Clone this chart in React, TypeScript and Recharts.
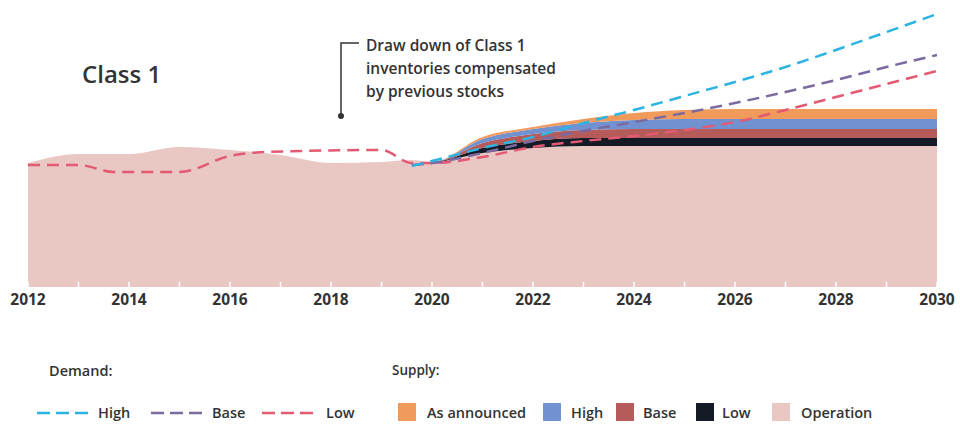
import React from "react";
import { ComposedChart, Area, Line, XAxis, YAxis } from "recharts";

// supply (stacked areas)
const SUPPLY_YEARS = [
  2012, 2013, 2013.5, 2014, 2015, 2015.5, 2016, 2016.5, 2017, 2018, 2019, 2019.6,
  2020, 2021, 2022, 2023, 2024, 2025, 2026, 2027, 2028, 2029, 2030,
];
const OPERATION = [
  124, 133, 133, 133, 140, 139, 137, 135, 132, 124, 125, 127,
  125, 134, 139, 141, 141, 141, 141, 141, 141, 141, 141,
];
const SUPPLY_LOW = [0, 0, 0, 0, 0, 0, 0, 0, 0, 0, 0, 0, 0, 5, 7, 8, 8, 8, 8, 8, 8, 8, 8];
const SUPPLY_BASE = [0, 0, 0, 0, 0, 0, 0, 0, 0, 0, 0, 0, 0, 5, 7, 8, 9, 9, 9, 9, 9, 9, 9];
const SUPPLY_HIGH = [0, 0, 0, 0, 0, 0, 0, 0, 0, 0, 0, 0, 0, 4, 5, 7, 9, 10, 10, 10, 10, 10, 10];
const SUPPLY_ANNOUNCED = [0, 0, 0, 0, 0, 0, 0, 0, 0, 0, 0, 0, 0, 2, 2, 4, 7, 9, 10, 10, 10, 10, 10];

// demand (dashed lines)
const DEMAND_LOW_YEARS = [
  2012, 2013, 2013.7, 2015, 2016, 2016.7, 2019, 2019.6, 2020, 2021, 2022, 2023, 2024,
  2025, 2026, 2027, 2028, 2029, 2030,
];
const DEMAND_LOW = [122, 122, 115, 115, 131, 135, 137, 124, 124, 130, 140, 146, 151, 157, 165, 177, 190, 203, 216];
const DEMAND_YEARS = [2019.6, 2020, 2021, 2022, 2023, 2024, 2025, 2026, 2027, 2028, 2029, 2030];
const DEMAND_HIGH = [121, 126, 139, 150, 164, 177, 191, 205, 220, 237, 255, 273];
const DEMAND_BASE = [122, 124, 134, 146, 156, 165, 174, 184, 195, 207, 220, 232];

const TICK_YEARS = [
  2012, 2013, 2014, 2015, 2016, 2017, 2018, 2019, 2020, 2021, 2022, 2023, 2024, 2025,
  2026, 2027, 2028, 2029, 2030,
];

const COLORS = {
  operation: "#e9c7c3",
  low: "#141a26",
  base: "#b55c5a",
  high: "#7191d0",
  announced: "#f09a5c",
  dHigh: "#2db4e2",
  dBase: "#7a6aa0",
  dLow: "#e35a72",
};

const FONT = "'Open Sans', 'DejaVu Sans', sans-serif";
const TEXT = "#333";

const supplyData = SUPPLY_YEARS.map((year, i) => ({
  year,
  operation: OPERATION[i],
  low: SUPPLY_LOW[i],
  base: SUPPLY_BASE[i],
  high: SUPPLY_HIGH[i],
  announced: SUPPLY_ANNOUNCED[i],
}));
const lowData = DEMAND_LOW_YEARS.map((year, i) => ({ year, value: DEMAND_LOW[i] }));
const highData = DEMAND_YEARS.map((year, i) => ({ year, value: DEMAND_HIGH[i] }));
const baseData = DEMAND_YEARS.map((year, i) => ({ year, value: DEMAND_BASE[i] }));

const YearTick = ({ x, y, payload }: any) => (
  <g>
    <line x1={x} x2={x} y1={y - 5} y2={y} stroke="#fff" strokeWidth={1.5} />
    {payload.value % 2 === 0 && (
      <text
        x={x}
        y={y + 14}
        textAnchor="middle"
        dominantBaseline="middle"
        fontFamily={FONT}
        fontSize={15.5}
        fontWeight={700}
        fill={TEXT}
      >
        {payload.value}
      </text>
    )}
  </g>
);

const DashSample = ({ color }: { color: string }) => (
  <svg width={52} height={6} style={{ display: "block" }}>
    <line x1={0} x2={52} y1={3} y2={3} stroke={color} strokeWidth={2.5} strokeDasharray="13 6" />
  </svg>
);

const label = (left: number, top: number, text: string, size = 14.5) => (
  <div
    style={{
      position: "absolute",
      left,
      top,
      fontSize: size,
      fontWeight: 600,
      color: TEXT,
      lineHeight: 1,
      whiteSpace: "nowrap",
    }}
  >
    {text}
  </div>
);

const swatch = (left: number, color: string) => (
  <div
    style={{ position: "absolute", left, top: 403, width: 18, height: 18, background: color }}
  />
);

export default function App() {
  return (
    <div
      style={{
        position: "absolute",
        left: 0,
        top: 0,
        width: 960,
        height: 426,
        background: "#fff",
        fontFamily: FONT,
      }}
    >
      <ComposedChart
        width={960}
        height={320}
        data={supplyData}
        margin={{ top: 7, right: 23, left: 28, bottom: 0 }}
      >
        <XAxis
          dataKey="year"
          type="number"
          domain={[2012, 2030]}
          ticks={TICK_YEARS}
          interval={0}
          height={33}
          axisLine={false}
          tickLine={false}
          tickSize={0}
          tickMargin={0}
          tick={<YearTick />}
        />
        <YAxis hide domain={[0, 280]} />
        <Area dataKey="operation" stackId="s" type="monotone" fill={COLORS.operation} fillOpacity={1} stroke="none" isAnimationActive={false} />
        <Area dataKey="low" stackId="s" type="monotone" fill={COLORS.low} fillOpacity={1} stroke="none" isAnimationActive={false} />
        <Area dataKey="base" stackId="s" type="monotone" fill={COLORS.base} fillOpacity={1} stroke="none" isAnimationActive={false} />
        <Area dataKey="high" stackId="s" type="monotone" fill={COLORS.high} fillOpacity={1} stroke="none" isAnimationActive={false} />
        <Area dataKey="announced" stackId="s" type="monotone" fill={COLORS.announced} fillOpacity={1} stroke="none" isAnimationActive={false} />
        <Line data={lowData} dataKey="value" type="monotone" stroke={COLORS.dLow} strokeWidth={2.5} strokeDasharray="12 7" dot={false} isAnimationActive={false} />
        <Line data={baseData} dataKey="value" type="monotone" stroke={COLORS.dBase} strokeWidth={2.5} strokeDasharray="12 7" dot={false} isAnimationActive={false} />
        <Line data={highData} dataKey="value" type="monotone" stroke={COLORS.dHigh} strokeWidth={2.5} strokeDasharray="12 7" dot={false} isAnimationActive={false} />
      </ComposedChart>

      {/* title */}
      <div
        style={{
          position: "absolute",
          left: 82,
          top: 62,
          fontSize: 24,
          fontWeight: 600,
          color: TEXT,
          lineHeight: 1,
        }}
      >
        Class 1
      </div>

      {/* annotation */}
      <svg width={30} height={130} style={{ position: "absolute", left: 330, top: 35 }}>
        <polyline points="29,8 11,8 11,81" fill="none" stroke={TEXT} strokeWidth={1.5} />
        <circle cx={11} cy={81} r={3} fill={TEXT} />
      </svg>
      <div
        style={{
          position: "absolute",
          left: 366,
          top: 34,
          fontSize: 15.5,
          fontWeight: 600,
          color: TEXT,
          lineHeight: "23px",
        }}
      >
        Draw down of Class 1
        <br />
        inventories compensated
        <br />
        by previous stocks
      </div>

      {/* legend */}
      {label(49, 364, "Demand:", 14.5)}
      {label(392, 364, "Supply:", 13.5)}

      <div style={{ position: "absolute", left: 37, top: 410 }}>
        <DashSample color={COLORS.dHigh} />
      </div>
      {label(98, 406, "High")}
      <div style={{ position: "absolute", left: 151, top: 410 }}>
        <DashSample color={COLORS.dBase} />
      </div>
      {label(212, 406, "Base")}
      <div style={{ position: "absolute", left: 262, top: 410 }}>
        <DashSample color={COLORS.dLow} />
      </div>
      {label(326, 406, "Low")}

      {swatch(398, COLORS.announced)}
      {label(427, 406, "As announced")}
      {swatch(543, COLORS.high)}
      {label(571, 406, "High")}
      {swatch(616, COLORS.base)}
      {label(643, 406, "Base")}
      {swatch(696, COLORS.low)}
      {label(722, 406, "Low")}
      {swatch(772, COLORS.operation)}
      {label(801, 406, "Operation")}
    </div>
  );
}
